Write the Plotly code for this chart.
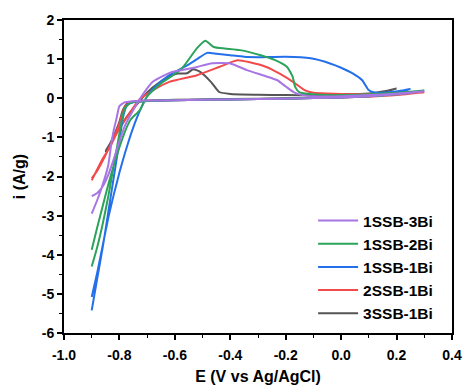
import plotly.graph_objects as go

# ---- data (E in V vs Ag/AgCl, i in A/g) ----
names = ["3SSB-1Bi", "2SSB-1Bi", "1SSB-1Bi", "1SSB-2Bi", "1SSB-3Bi"]
colors = ["#555555", "#F24A4A", "#2470EA", "#2BA35A", "#A875E4"]

# 3SSB-1Bi
e_3s1b_an = [-0.85, -0.82, -0.79, -0.76, -0.73, -0.70, -0.66, -0.62, -0.59, -0.556, -0.534, -0.51, -0.47, -0.44, -0.40, -0.30, -0.20, -0.10, 0.0, 0.10, 0.15, 0.20]
i_3s1b_an = [-1.35, -1.0, -0.65, -0.35, -0.1, 0.15, 0.38, 0.55, 0.63, 0.64, 0.74, 0.68, 0.42, 0.16, 0.11, 0.09, 0.08, 0.08, 0.09, 0.12, 0.17, 0.25]
e_3s1b_ca = [0.20, 0.10, 0.0, -0.20, -0.40, -0.60, -0.70, -0.75, -0.77, -0.78, -0.79, -0.80, -0.82, -0.84, -0.85]
i_3s1b_ca = [0.25, 0.08, 0.03, 0.0, -0.02, -0.04, -0.06, -0.08, -0.12, -0.2, -0.35, -0.6, -0.95, -1.25, -1.38]

# 2SSB-1Bi
e_2s1b_an = [-0.90, -0.86, -0.834, -0.81, -0.77, -0.73, -0.68, -0.62, -0.52, -0.44, -0.375, -0.33, -0.27, -0.22, -0.17, -0.13, -0.10, -0.05, 0.0, 0.10, 0.20, 0.30]
i_2s1b_an = [-2.10, -1.54, -1.25, -0.90, -0.45, -0.05, 0.20, 0.42, 0.59, 0.80, 0.97, 0.92, 0.80, 0.62, 0.40, 0.20, 0.14, 0.12, 0.11, 0.11, 0.12, 0.15]
e_2s1b_ca = [0.30, 0.20, 0.10, 0.0, -0.20, -0.40, -0.60, -0.70, -0.75, -0.77, -0.78, -0.79, -0.80, -0.82, -0.85, -0.88, -0.90]
i_2s1b_ca = [0.15, 0.08, 0.04, 0.02, -0.01, -0.03, -0.05, -0.07, -0.09, -0.13, -0.22, -0.4, -0.65, -1.0, -1.45, -1.85, -2.05]

# 1SSB-1Bi
e_1s1b_an = [-0.90, -0.88, -0.86, -0.84, -0.82, -0.80, -0.78, -0.76, -0.74, -0.72, -0.70, -0.67, -0.62, -0.556, -0.52, -0.484, -0.45, -0.40, -0.35, -0.30, -0.20, -0.11, -0.04, 0.0, 0.043, 0.076, 0.098, 0.12, 0.14, 0.18, 0.22, 0.25]
i_1s1b_an = [-5.08, -4.45, -3.75, -3.05, -2.45, -1.90, -1.40, -0.95, -0.55, -0.22, 0.05, 0.30, 0.59, 0.84, 1.00, 1.16, 1.14, 1.10, 1.06, 1.05, 1.06, 1.02, 0.89, 0.78, 0.63, 0.46, 0.22, 0.15, 0.14, 0.16, 0.20, 0.24]
e_1s1b_ca = [0.25, 0.20, 0.10, 0.0, -0.20, -0.40, -0.60, -0.70, -0.75, -0.77, -0.78, -0.79, -0.80, -0.82, -0.84, -0.86, -0.88, -0.90]
i_1s1b_ca = [0.24, 0.12, 0.05, 0.02, -0.01, -0.03, -0.05, -0.07, -0.10, -0.15, -0.30, -0.60, -1.10, -2.00, -2.90, -3.80, -4.60, -5.42]

# 1SSB-2Bi
e_1s2b_an = [-0.90, -0.88, -0.86, -0.84, -0.82, -0.80, -0.78, -0.76, -0.726, -0.70, -0.65, -0.60, -0.57, -0.52, -0.49, -0.46, -0.42, -0.365, -0.29, -0.24, -0.195, -0.175, -0.166, -0.15, -0.10, -0.05, 0.0, 0.10, 0.20, 0.30]
i_1s2b_an = [-3.87, -3.30, -2.75, -2.20, -1.70, -1.25, -0.85, -0.55, -0.30, 0.05, 0.38, 0.62, 0.80, 1.28, 1.47, 1.31, 1.27, 1.23, 1.10, 0.98, 0.80, 0.55, 0.29, 0.15, 0.10, 0.08, 0.08, 0.10, 0.14, 0.20]
e_1s2b_ca = [0.30, 0.20, 0.10, 0.0, -0.20, -0.40, -0.60, -0.70, -0.74, -0.76, -0.78, -0.79, -0.80, -0.82, -0.84, -0.86, -0.88, -0.90]
i_1s2b_ca = [0.20, 0.10, 0.05, 0.02, -0.01, -0.03, -0.05, -0.07, -0.09, -0.12, -0.25, -0.50, -0.90, -1.70, -2.50, -3.20, -3.80, -4.30]

# 1SSB-3Bi
e_1s3b_an = [-0.90, -0.88, -0.86, -0.84, -0.82, -0.80, -0.78, -0.75, -0.72, -0.68, -0.64, -0.61, -0.56, -0.52, -0.47, -0.40, -0.34, -0.28, -0.23, -0.20, -0.17, -0.14, -0.10, 0.0, 0.10, 0.20, 0.30]
i_1s3b_an = [-2.50, -2.42, -2.25, -1.95, -1.55, -1.10, -0.70, -0.30, 0.05, 0.42, 0.58, 0.67, 0.74, 0.80, 0.89, 0.89, 0.72, 0.58, 0.46, 0.30, 0.15, 0.08, 0.05, 0.05, 0.08, 0.12, 0.18]
e_1s3b_ca = [0.30, 0.20, 0.10, 0.0, -0.20, -0.40, -0.60, -0.70, -0.76, -0.78, -0.80, -0.81, -0.82, -0.83, -0.84, -0.86, -0.88, -0.90]
i_1s3b_ca = [0.18, 0.10, 0.05, 0.02, -0.01, -0.03, -0.05, -0.06, -0.08, -0.10, -0.20, -0.50, -0.80, -1.20, -1.70, -2.20, -2.60, -2.95]

x_ticks = [-1.0, -0.8, -0.6, -0.4, -0.2, 0.0, 0.2, 0.4]
x_tick_labels = ["-1.0", "-0.8", "-0.6", "-0.4", "-0.2", "0.0", "0.2", "0.4"]
y_ticks = [-6, -5, -4, -3, -2, -1, 0, 1, 2]
y_tick_labels = ["-6", "-5", "-4", "-3", "-2", "-1", "0", "1", "2"]

series = [
    (e_3s1b_an + e_3s1b_ca, i_3s1b_an + i_3s1b_ca),
    (e_2s1b_an + e_2s1b_ca, i_2s1b_an + i_2s1b_ca),
    (e_1s1b_an + e_1s1b_ca, i_1s1b_an + i_1s1b_ca),
    (e_1s2b_an + e_1s2b_ca, i_1s2b_an + i_1s2b_ca),
    (e_1s3b_an + e_1s3b_ca, i_1s3b_an + i_1s3b_ca),
]

FONT = "Liberation Sans, Arial, sans-serif"

fig = go.Figure()
for (xs, ys), name, col in zip(series, names, colors):
    fig.add_trace(go.Scatter(
        x=xs, y=ys, mode="lines", name=name,
        line=dict(color=col, width=2, shape="spline", smoothing=0.5),
    ))

axis_common = dict(
    showline=True, linecolor="black", linewidth=2, mirror=True,
    ticks="outside", ticklen=5, tickwidth=1.5, tickcolor="black",
    showgrid=False, zeroline=False, automargin=False,
    tickfont=dict(family=FONT, size=14, color="black", weight="bold"),
    minor=dict(ticks="outside", ticklen=3, tickwidth=1.2, tickcolor="black", showgrid=False),
)

fig.update_xaxes(
    range=[-1.0, 0.4], tickvals=x_ticks, ticktext=x_tick_labels,
    minor_dtick=0.1, minor_tick0=0, ticklabelstandoff=3,
    title=dict(text="E (V vs Ag/AgCl)", font=dict(family=FONT, size=16, color="black", weight="bold"), standoff=13),
    **axis_common,
)
fig.update_yaxes(
    range=[-6, 2], tickvals=y_ticks, ticktext=y_tick_labels,
    minor_dtick=0.5, minor_tick0=0,
    title=dict(text="i (A/g)", font=dict(family=FONT, size=16, color="black", weight="bold"), standoff=12),
    **axis_common,
)

fig.update_layout(
    width=465, height=385,
    margin=dict(l=64, r=13, t=20, b=52),
    plot_bgcolor="white", paper_bgcolor="white",
    font=dict(family=FONT, color="black"),
    legend=dict(
        x=0.642, y=0.412, xanchor="left", yanchor="top",
        traceorder="reversed", bgcolor="rgba(0,0,0,0)", borderwidth=0,
        font=dict(family=FONT, size=15.5, color="black", weight="bold"),
        itemwidth=40,
    ),
    showlegend=True,
)

fig.write_html("out.html")
